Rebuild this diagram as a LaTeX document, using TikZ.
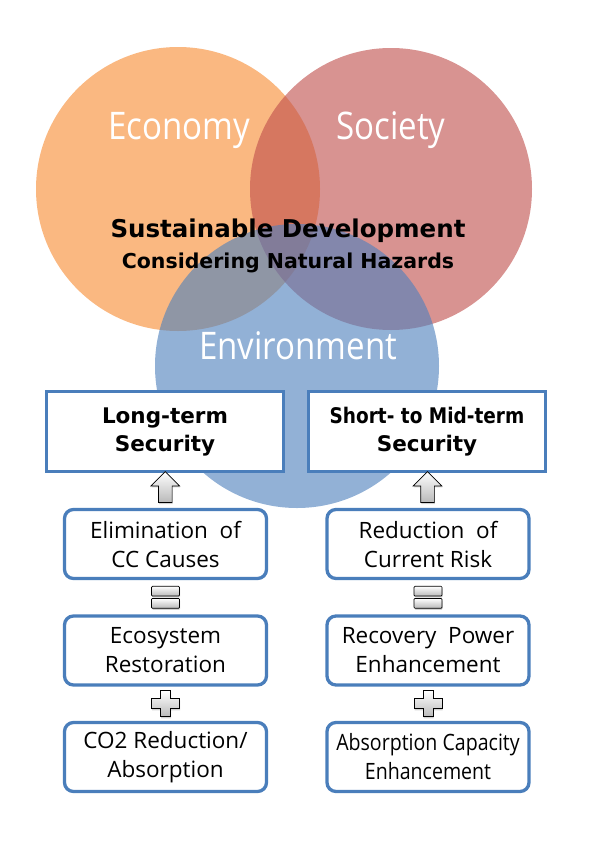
\documentclass[tikz,border=0pt]{standalone}
\usepackage{fontspec}
\setmainfont{Open Sans}
\newfontfamily\narrowfont[FakeStretch=0.87]{Open Sans}
\newfontfamily\bfont{DejaVu Sans}
\newfontfamily\bfontc[FakeStretch=0.86]{DejaVu Sans}
\usetikzlibrary{shapes.arrows,calc,shadows}
\definecolor{eco}{RGB}{247,150,70}
\definecolor{soc}{RGB}{192,80,77}
\definecolor{env}{RGB}{79,129,189}
\definecolor{bord}{RGB}{74,126,187}
\begin{document}
\begin{tikzpicture}[x=1pt,y=-1pt,
  circlabel/.style={text=white,font=\narrowfont\fontsize{38}{38}\selectfont,anchor=base},
  bigbox/.style={draw=bord,line width=3.3pt,fill=white,minimum width=237pt,minimum height=80pt,
    align=center,inner sep=2pt,font=\bfont\bfseries\fontsize{21.5}{28}\selectfont},
  smallbox/.style={draw=bord,line width=3.3pt,fill=white,rounded corners=9pt,minimum width=202pt,
    minimum height=69pt,align=center,inner sep=2pt,font=\fontsize{22.5}{29}\selectfont},
  uparrow/.style={single arrow,shape border rotate=90,draw=black,line width=0.7pt,
    top color=white,bottom color=gray!55,minimum height=31pt,minimum width=28pt,
    single arrow head extend=7.5pt,inner sep=6.5pt,
    drop shadow={shadow xshift=0.6pt,shadow yshift=-1.5pt,opacity=0.35}},
  signshape/.style={draw=black,line width=0.7pt,top color=white,bottom color=gray!55,
    drop shadow={shadow xshift=0.6pt,shadow yshift=-1.5pt,opacity=0.35}},
]
\useasboundingbox (0,0) rectangle (592,841);
% Venn circles
\fill[eco,fill opacity=0.68] (178,189) circle (142pt);
\fill[soc,fill opacity=0.62] (391,189) circle (141pt);
\fill[env,fill opacity=0.62] (297,366) circle (142pt);
% circle labels
\node[circlabel] (econ) at (179,139) {Economy};
\node[circlabel] (soc) at (391,139) {Society};
\node[circlabel] (env) at (298,359) {Environment};
\node[font=\bfont\bfseries\fontsize{24.5}{24.5}\selectfont,anchor=base] (sd) at (288,237) {Sustainable Development};
\node[font=\bfont\bfseries\fontsize{20.5}{20.5}\selectfont,anchor=base] (cnh) at (288,268) {Considering Natural Hazards};
% left column
\node[bigbox] (L1) at (165,431.5) {Long-term\\Security};
\node[smallbox] (L2) at (165.5,544) {Elimination~ of\\CC Causes};
\node[smallbox] (L3) at (165.5,650.5) {Ecosystem\\Restoration};
\node[smallbox] (L4) at (165.5,757) {CO2 Reduction/\\Absorption};
% right column
\node[bigbox] (R1) at (427,431.5) {{\bfontc\bfseries Short- to Mid-term}\\Security};
\node[smallbox] (R2) at (428,544) {Reduction~ of\\Current Risk};
\node[smallbox] (R3) at (428,650.5) {Recovery~ Power\\Enhancement};
\node[smallbox,font=\narrowfont\fontsize{22.5}{29}\selectfont] (R4) at (428,757) {Absorption Capacity\\Enhancement};
% up arrows
\node[uparrow] (aL) at ($(L1.south)!0.5!(L2.north)$) {};
\node[uparrow] (aR) at ($(R1.south)!0.5!(R2.north)$) {};
% equals signs
\coordinate (eqL) at ($(L2.south)!0.5!(L3.north)$);
\coordinate (eqR) at ($(R2.south)!0.5!(R3.north)$);
\foreach \c in {eqL,eqR}{
  \draw[signshape,rounded corners=1pt,shift={(\c)}] (-14,-11) rectangle (14,-1.2);
  \draw[signshape,rounded corners=1pt,shift={(\c)}] (-14,1.2) rectangle (14,11);
}
% plus signs
\coordinate (plL) at ($(L3.south)!0.5!(L4.north)$);
\coordinate (plR) at ($(R3.south)!0.5!(R4.north)$);
\foreach \c in {plL,plR}{
  \draw[signshape,shift={(\c)}] (-5,-13) -- (5,-13) -- (5,-5) -- (14,-5) -- (14,5) -- (5,5)
    -- (5,13) -- (-5,13) -- (-5,5) -- (-14,5) -- (-14,-5) -- (-5,-5) -- cycle;
}
\end{tikzpicture}
\end{document}
